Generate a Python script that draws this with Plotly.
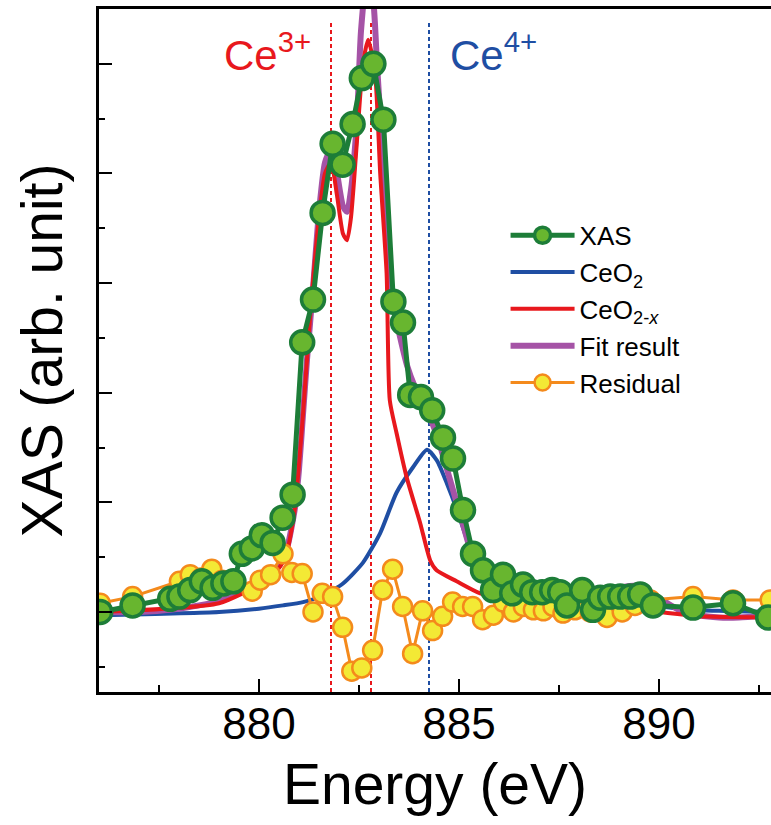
import plotly.graph_objects as go

# ---------------- data ----------------
xas_e = [876.03, 876.84, 877.78, 878.01, 878.28, 878.57, 878.84, 879.11, 879.36, 879.57,
         879.82, 880.07, 880.34, 880.59, 880.84, 881.08, 881.35, 881.59, 881.84, 882.09,
         882.34, 882.57, 882.86, 883.11, 883.36, 883.6, 883.78, 884.05, 884.33, 884.6,
         884.85, 885.1, 885.35, 885.6, 885.85, 886.1, 886.33, 886.6, 886.83, 887.08,
         887.33, 887.53, 887.7, 888.08, 888.35, 888.53, 888.78, 889.03, 889.28, 889.53,
         889.85, 890.85, 891.85, 892.73]
xas_v = [0.00, 0.06, 0.12, 0.14, 0.20, 0.28, 0.22, 0.26, 0.28, 0.53,
         0.58, 0.70, 0.63, 0.86, 1.07, 2.46, 2.85, 3.64, 4.27, 4.08,
         4.45, 4.87, 5.00, 4.49, 2.83, 2.64, 1.98, 1.96, 1.84, 1.59,
         1.40, 0.93, 0.53, 0.38, 0.20, 0.34, 0.17, 0.25, 0.18, 0.18,
         0.20, 0.18, 0.06, 0.20, 0.02, 0.13, 0.14, 0.14, 0.14, 0.16,
         0.06, 0.04, 0.08, -0.05]

ceo2_e = [876.0, 879.0, 880.0, 880.6, 881.1, 881.6, 882.1, 882.6, 883.03, 883.44,
          883.85, 884.2, 884.45, 884.7, 884.95, 885.2, 885.5, 885.9, 886.5, 887.5,
          888.5, 889.5, 890.5, 891.5, 892.8]
ceo2_v = [-0.03, 0.00, 0.03, 0.06, 0.09, 0.15, 0.26, 0.45, 0.72, 1.09,
          1.32, 1.48, 1.38, 1.17, 0.93, 0.66, 0.40, 0.24, 0.17, 0.13,
          0.11, 0.08, 0.03, 0.01, 0.00]

ceo2x_e = [876.0, 879.0, 880.0, 880.5, 880.7, 880.9, 881.1, 881.3, 881.5, 881.65,
           881.8, 881.95, 882.1, 882.2, 882.3, 882.45, 882.6, 882.73, 882.9, 883.03,
           883.19, 883.27, 883.44, 883.69, 884.03, 884.28, 884.44, 884.94, 885.53, 886.5,
           888.0, 889.0, 890.0, 891.0, 892.8]
ceo2x_v = [0.00, 0.08, 0.25, 0.40, 0.55, 0.95, 1.80, 2.80, 3.60, 4.00,
           4.10, 3.80, 3.45, 3.39, 3.60, 4.30, 5.00, 5.22, 4.92, 4.00,
           3.09, 1.93, 1.63, 1.23, 0.81, 0.47, 0.38, 0.28, 0.17, 0.10,
           0.05, 0.03, 0.00, -0.04, -0.05]

fit_e = [876.0, 877.0, 878.0, 878.5, 879.0, 879.5, 880.0, 880.5, 880.7, 880.9,
         881.0, 881.1, 881.2, 881.35, 881.5, 881.65, 881.8, 881.95, 882.1, 882.2,
         882.3, 882.45, 882.55, 882.7, 882.85, 882.95, 883.05, 883.15, 883.3, 883.5,
         883.7, 883.9, 884.1, 884.3, 884.5, 884.7, 884.9, 885.1, 885.3, 885.5,
         885.8, 886.2, 886.8, 887.5, 888.0, 888.5, 889.0, 889.5, 889.9, 890.5,
         891.0, 891.5, 892.0, 892.8]
fit_v = [0.00, 0.00, 0.03, 0.06, 0.10, 0.18, 0.28, 0.42, 0.58, 0.95,
         1.30, 1.80, 2.30, 2.95, 3.65, 4.10, 4.22, 4.00, 3.70, 3.65,
         3.85, 4.50, 5.30, 5.80, 5.60, 5.00, 4.40, 3.60, 2.90, 2.55,
         2.25, 2.05, 1.90, 1.75, 1.55, 1.30, 1.05, 0.80, 0.55, 0.40,
         0.28, 0.20, 0.17, 0.16, 0.15, 0.17, 0.22, 0.24, 0.15, 0.02,
         -0.03, -0.05, -0.05, -0.03]

res_e = [876.03, 876.84, 878.01, 878.28, 878.55, 878.82, 879.08, 879.83, 880.03, 880.29,
         880.6, 880.82, 881.08, 881.35, 881.58, 881.84, 882.09, 882.32, 882.57, 882.84,
         883.09, 883.34, 883.59, 883.84, 884.09, 884.34, 884.59, 884.84, 885.09, 885.34,
         885.59, 885.86, 886.11, 886.36, 886.61, 886.86, 887.11, 887.35, 887.6, 887.9,
         888.28, 888.7, 889.08, 889.4, 889.78, 890.85, 891.85, 892.78]
res_v = [0.08, 0.14, 0.28, 0.34, 0.31, 0.39, 0.29, 0.19, 0.29, 0.34,
         0.53, 0.36, 0.35, 0.00, 0.17, 0.14, -0.14, -0.54, -0.51, -0.35,
         0.20, 0.39, 0.05, -0.38, 0.01, -0.17, -0.04, 0.09, 0.05, 0.05,
         -0.07, -0.03, 0.09, 0.00, 0.05, 0.02, 0.01, 0.05, -0.01, 0.02,
         0.00, -0.05, 0.00, 0.06, 0.11, 0.14, 0.11, 0.11]

ce3_lines = [881.8, 882.8]
ce4_lines = [884.25]
x_range = [876.0, 892.8]
y_range = [-0.73, 5.5]
line_top = 5.38

# ---------------- colours ----------------
GREEN_LINE = "#1d7d38"
GREEN_FILL = "#68b62f"
BLUE = "#1f4ea3"
RED = "#e8181d"
PURPLE = "#a553a6"
ORANGE = "#f48a1c"
YELLOW = "#f3e935"
FONT = "Arial, Liberation Sans, Helvetica, sans-serif"

fig = go.Figure()

fig.add_trace(go.Scatter(x=ceo2_e, y=ceo2_v, mode="lines", name="CeO<sub>2</sub>",
                         line=dict(color=BLUE, width=4, shape="spline", smoothing=0.6),
                         legendrank=2))
fig.add_trace(go.Scatter(x=fit_e, y=fit_v, mode="lines", name="Fit result",
                         line=dict(color=PURPLE, width=6, shape="spline", smoothing=0.6),
                         legendrank=4))
fig.add_trace(go.Scatter(x=ceo2x_e, y=ceo2x_v, mode="lines", name="CeO<sub>2-<i>x</i></sub>",
                         line=dict(color=RED, width=4, shape="spline", smoothing=0.6),
                         legendrank=3))
fig.add_trace(go.Scatter(x=res_e, y=res_v, mode="lines+markers", name="Residual",
                         line=dict(color=ORANGE, width=3),
                         marker=dict(size=19, color=YELLOW, line=dict(color=ORANGE, width=2.5)),
                         legendrank=5))
fig.add_trace(go.Scatter(x=xas_e, y=xas_v, mode="lines+markers", name="XAS",
                         line=dict(color=GREEN_LINE, width=5),
                         marker=dict(size=23, color=GREEN_FILL, line=dict(color=GREEN_LINE, width=3.5)),
                         legendrank=1))

for xv in ce3_lines:
    fig.add_shape(type="line", xref="x", yref="y", x0=xv, x1=xv, y0=y_range[0], y1=line_top,
                  line=dict(color=RED, width=2, dash="4px,3px"), layer="below")
for xv in ce4_lines:
    fig.add_shape(type="line", xref="x", yref="y", x0=xv, x1=xv, y0=y_range[0], y1=line_top,
                  line=dict(color=BLUE, width=2, dash="4px,3px"), layer="below")

fig.add_annotation(x=880.2, y=5.11, xref="x", yref="y", text="Ce<sup>3+</sup>",
                   showarrow=False, font=dict(size=42, color=RED, family=FONT))
fig.add_annotation(x=885.85, y=5.11, xref="x", yref="y", text="Ce<sup>4+</sup>",
                   showarrow=False, font=dict(size=42, color=BLUE, family=FONT))

# y-axis title as rotated annotation
fig.add_annotation(x=-0.085, y=0.5, xref="paper", yref="paper", text="XAS (arb. unit)",
                   textangle=-90, showarrow=False, xanchor="center", yanchor="middle",
                   font=dict(size=57, color="black", family=FONT))

fig.update_layout(
    width=771, height=825,
    margin=dict(l=99, r=0, t=9, b=133),
    paper_bgcolor="white", plot_bgcolor="white",
    font=dict(family=FONT, color="black"),
    showlegend=True,
    legend=dict(x=0.605, y=0.703, xanchor="left", yanchor="top",
                font=dict(size=26, family=FONT, color="black"),
                bgcolor="rgba(0,0,0,0)", tracegroupgap=0, itemwidth=64),
)

fig.update_xaxes(range=x_range, showgrid=False, zeroline=False,
                 showline=True, linecolor="black", linewidth=2.5, mirror=True,
                 ticks="inside", ticklen=13, tickwidth=2, tickcolor="black",
                 tick0=880, dtick=5, ticklabelstandoff=-9,
                 minor=dict(ticks="inside", ticklen=7, tickwidth=2, tickcolor="black", dtick=2.5),
                 tickfont=dict(size=44, family=FONT, color="black"),
                 title=dict(text="Energy (eV)", font=dict(size=57, family=FONT, color="black"), standoff=18))

fig.update_yaxes(range=y_range, showgrid=False, zeroline=False,
                 showline=True, linecolor="black", linewidth=2.5, mirror=False,
                 ticks="inside", ticklen=13, tickwidth=2, tickcolor="black",
                 tick0=0, dtick=1, showticklabels=False,
                 minor=dict(ticks="inside", ticklen=6, tickwidth=2, tickcolor="black", dtick=0.5))

fig.write_html("out.html")
